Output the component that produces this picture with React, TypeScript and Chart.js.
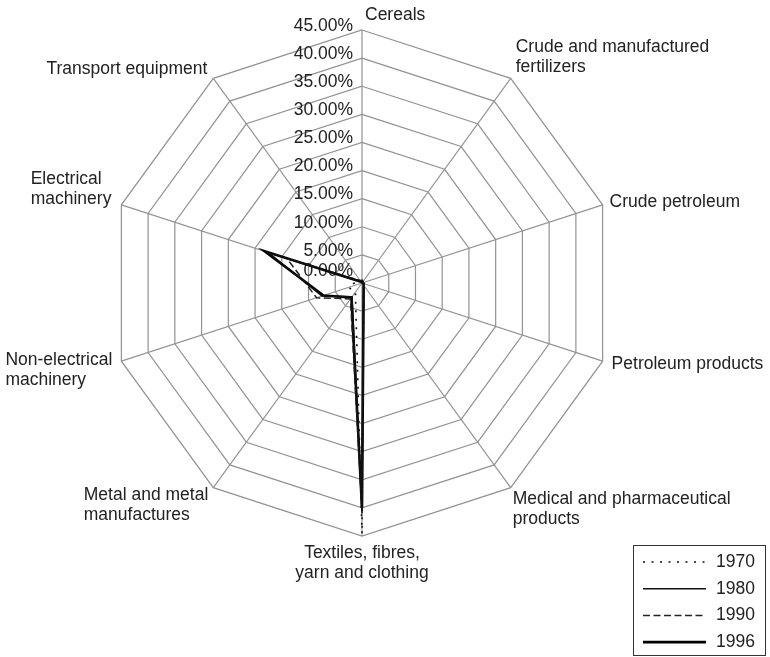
import React, { useEffect, useRef } from "react";
import { Chart, registerables } from "chart.js";

Chart.register(...registerables);

const CATEGORIES: string[][] = [
  ["Cereals"],
  ["Crude and manufactured", "fertilizers"],
  ["Crude petroleum"],
  ["Petroleum products"],
  ["Medical and pharmaceutical", "products"],
  ["Textiles, fibres,", "yarn and clothing"],
  ["Metal and metal", "manufactures"],
  ["Non-electrical", "machinery"],
  ["Electrical", "machinery"],
  ["Transport equipment"],
];

const SERIES_LABELS = ["1970", "1980", "1990", "1996"];

const DATA_1970 = [0.5, 0.3, 0.2, 0.4, 0.5, 44.6, 2.0, 2.5, 1.0, 0.5];
const DATA_1980 = [0.3, 0.2, 0.1, 0.3, 0.5, 41.0, 3.0, 7.5, 17.5, 0.4];
const DATA_1990 = [0.3, 0.2, 0.1, 0.3, 0.5, 40.5, 3.5, 8.5, 14.0, 0.5];
const DATA_1996 = [0.3, 0.2, 0.1, 0.3, 0.5, 40.0, 3.2, 7.2, 18.2, 0.3];

const TICK_VALUES = [0, 5, 10, 15, 20, 25, 30, 35, 40, 45];

const FONT = '17.5px "Liberation Sans", Arial, sans-serif';
const TEXT_COLOR = "#222";
const GRID_COLOR = "#939393";

// label placement relative to each outer vertex
const LABEL_PLACE: { align: "left" | "right" | "center"; dx: number; dy: number }[] = [
  { align: "left", dx: 3, dy: -15 },
  { align: "left", dx: 5, dy: -31 },
  { align: "left", dx: 7, dy: -3 },
  { align: "left", dx: 9, dy: 3 },
  { align: "left", dx: 2, dy: 11 },
  { align: "center", dx: 0, dy: 17 },
  { align: "right", dx: -5, dy: 7 },
  { align: "right", dx: -9, dy: -1 },
  { align: "right", dx: -10, dy: -26 },
  { align: "right", dx: -6, dy: -9 },
];

const textPlugin = {
  id: "customText",
  beforeDatasetsDraw(chart: any) {
    const ctx = chart.ctx;
    const r = chart.scales.r;
    ctx.save();
    ctx.font = FONT;
    ctx.fillStyle = TEXT_COLOR;
    ctx.textBaseline = "middle";
    ctx.textAlign = "right";
    TICK_VALUES.forEach((v) => {
      const d = r.getDistanceFromCenterForValue(v);
      const y = r.yCenter - d + (v === 0 ? -12 : -4);
      ctx.fillText(v.toFixed(2) + "%", r.xCenter - 9, y);
    });
    ctx.restore();
  },
  afterDraw(chart: any) {
    const ctx = chart.ctx;
    const r = chart.scales.r;
    ctx.save();
    ctx.font = FONT;
    ctx.fillStyle = TEXT_COLOR;
    ctx.textBaseline = "middle";
    const labels: string[][] = chart.data.labels;
    labels.forEach((lines, i) => {
      const p = r.getPointPosition(i, r.drawingArea);
      const lp = LABEL_PLACE[i];
      const maxW = Math.max(...lines.map((l) => ctx.measureText(l).width));
      lines.forEach((l, k) => {
        const y = p.y + lp.dy + k * 20;
        if (lp.align === "center") {
          ctx.textAlign = "center";
          ctx.fillText(l, p.x + lp.dx, y);
        } else {
          ctx.textAlign = "left";
          const left = lp.align === "left" ? p.x + lp.dx : p.x + lp.dx - maxW;
          ctx.fillText(l, left, y);
        }
      });
    });

    // legend box
    ctx.strokeStyle = "#333";
    ctx.lineWidth = 1;
    ctx.setLineDash([]);
    ctx.strokeRect(633.5, 545.5, 132, 110);
    chart.data.datasets.forEach((ds: any, i: number) => {
      const y = 562 + i * 26.7;
      ctx.save();
      ctx.strokeStyle = ds.borderColor;
      ctx.lineWidth = ds.borderWidth;
      ctx.setLineDash(ds.borderDash || []);
      ctx.beginPath();
      ctx.moveTo(643, y);
      ctx.lineTo(706, y);
      ctx.stroke();
      ctx.restore();
      ctx.textAlign = "left";
      ctx.fillText(ds.label, 716, y);
    });
    ctx.restore();
  },
};

export default function App() {
  const ref = useRef<HTMLCanvasElement | null>(null);
  useEffect(() => {
    if (!ref.current) return;
    const chart = new Chart(ref.current, {
      type: "radar",
      data: {
        labels: CATEGORIES,
        datasets: [
          { label: SERIES_LABELS[0], data: DATA_1970, borderColor: "#111", borderWidth: 1.6, borderDash: [2, 6.5], fill: false, pointRadius: 0 },
          { label: SERIES_LABELS[1], data: DATA_1980, borderColor: "#111", borderWidth: 1.5, borderDash: [], fill: false, pointRadius: 0 },
          { label: SERIES_LABELS[2], data: DATA_1990, borderColor: "#222", borderWidth: 1.5, borderDash: [7, 3.5], fill: false, pointRadius: 0 },
          { label: SERIES_LABELS[3], data: DATA_1996, borderColor: "#000", borderWidth: 2.6, borderDash: [], fill: false, pointRadius: 0 },
        ],
      },
      options: {
        responsive: false,
        animation: false,
        devicePixelRatio: 1,
        layout: { padding: { left: 109, top: 30, right: 155, bottom: 121 } },
        plugins: { legend: { display: false }, tooltip: { enabled: false } },
        elements: { line: { tension: 0 } },
        scales: {
          r: {
            min: 0,
            max: 45,
            startAngle: 0,
            ticks: { display: false, stepSize: 5 },
            pointLabels: { display: false },
            grid: { color: GRID_COLOR, lineWidth: 1.2 },
            angleLines: { color: GRID_COLOR, lineWidth: 1.2 },
          },
        },
      },
      plugins: [textPlugin],
    } as any);
    return () => chart.destroy();
  }, []);
  return (
    <div style={{ position: "fixed", left: 0, top: 0, width: 770, height: 657, background: "#fff" }}>
      <canvas ref={ref} width={770} height={657} />
    </div>
  );
}
